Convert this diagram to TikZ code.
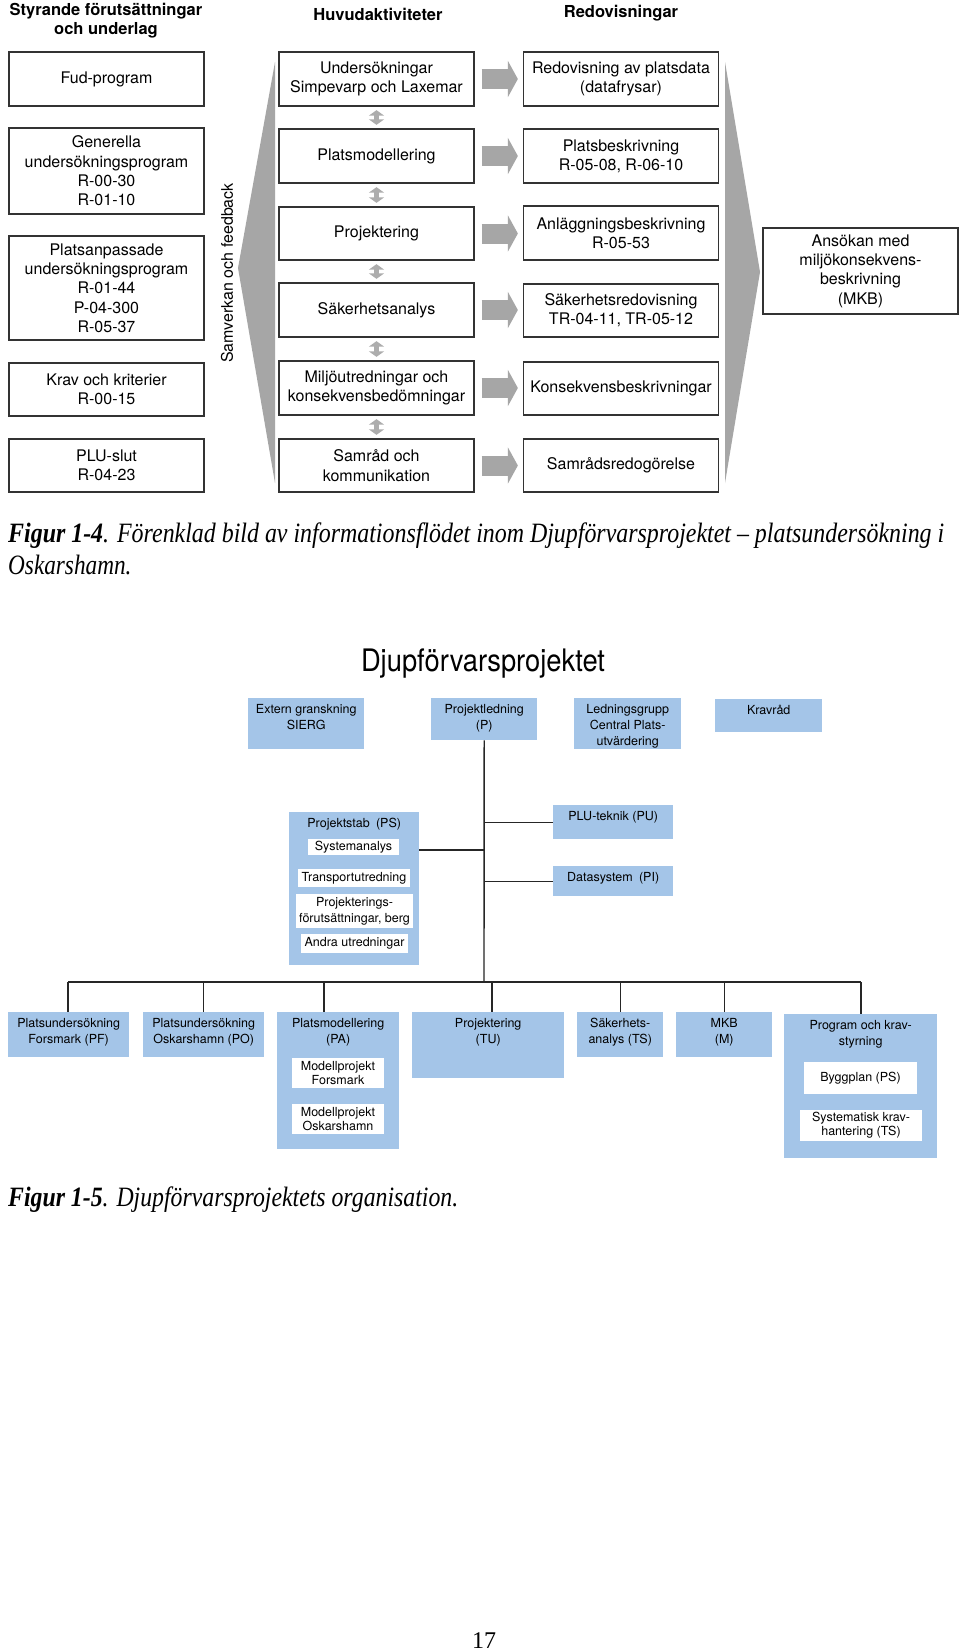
\documentclass[tikz,border=0pt]{standalone}
\usepackage{graphicx}
\usepackage{fontspec}
\setmainfont{TeX Gyre Heros}
\newfontfamily\capfont{Liberation Serif}
\usetikzlibrary{arrows.meta}
\definecolor{boxgray}{HTML}{A6A6A6}
\definecolor{lightgraytwo}{HTML}{ADADAD}
\definecolor{orgblue}{HTML}{A4C5E8}
\definecolor{boxline}{HTML}{333333}
\newcommand\orgfont{\fontsize{12.5}{16}\selectfont}
\newcommand\topfont{\fontsize{16}{19.3}\selectfont}
\begin{document}
\begin{tikzpicture}[x=1pt,y=-1pt,
 tbox/.style={draw=boxline, line width=1.3pt, fill=white, align=center, inner sep=0pt, minimum width=195pt, font=\topfont},
 hdr/.style={font=\bfseries\fontsize{16.5}{19}\selectfont, align=center, inner sep=0pt},
 blockarrow/.style={line width=20pt, draw=boxgray, -{Triangle[width=36pt,length=10pt]}, shorten <=7pt, shorten >=5pt},
 dblarrow/.style={line width=5.5pt, draw=lightgraytwo, {Triangle[width=15pt,length=5.5pt]}-{Triangle[width=15pt,length=5.5pt]}, shorten <=3.5pt, shorten >=3.5pt},
 obox/.style={fill=orgblue, inner sep=0pt, anchor=north west},
 wbox/.style={fill=white, inner sep=0pt, align=center, font=\orgfont},
 otxt/.style={inner sep=0pt, align=center, font=\orgfont, anchor=north},
 oline/.style={line width=1.4pt, draw=black!85},
]
\fill[white] (0,0) rectangle (960,1652);
\useasboundingbox (0,0) rectangle (960,1652);

% ---------- Figure 1-4 ----------
\node[hdr] (h1) at (106,21) {Styrande förutsättningar\\och underlag};
\node[hdr] (h2) at (378,14) {Huvudaktiviteter};
\node[hdr] (h3) at (621,13) {Redovisningar};

\fill[boxgray] (275,62) -- (238,268) -- (275,483) -- cycle;
\fill[boxgray] (725,62) -- (760,272) -- (725,483) -- cycle;
\node[rotate=90, inner sep=0pt, font=\topfont] (samv) at (227,273) {Samverkan och feedback};

\node[tbox, minimum height=54pt] (fud) at (106.5,79) {Fud-program};
\node[tbox, minimum height=86pt] (gen) at (106.5,171) {Generella\\undersökningsprogram\\R-00-30\\R-01-10};
\node[tbox, minimum height=104pt] (pla) at (106.5,288) {Platsanpassade\\undersökningsprogram\\R-01-44\\P-04-300\\R-05-37};
\node[tbox, minimum height=53pt] (krav) at (106.5,389.5) {Krav och kriterier\\R-00-15};
\node[tbox, minimum height=53pt] (plu) at (106.5,465.5) {PLU-slut\\R-04-23};

\node[tbox, minimum height=54pt] (und) at (376.5,79) {Undersökningar\\Simpevarp och Laxemar};
\node[tbox, minimum height=54pt] (pm) at (376.5,156) {Platsmodellering};
\node[tbox, minimum height=53pt] (proj) at (376.5,233.5) {Projektering};
\node[tbox, minimum height=54pt] (sak) at (376.5,310) {Säkerhetsanalys};
\node[tbox, minimum height=54pt] (milj) at (376.5,388) {Miljöutredningar och\\konsekvensbedömningar};
\node[tbox, minimum height=53pt] (samr) at (376.5,465.5) {Samråd och\\kommunikation};

\node[tbox, minimum height=54pt] (red) at (621,79) {Redovisning av platsdata\\(datafrysar)};
\node[tbox, minimum height=54pt] (pb) at (621,156) {Platsbeskrivning\\R-05-08, R-06-10};
\node[tbox, minimum height=54pt] (anl) at (621,233) {Anläggningsbeskrivning\\R-05-53};
\node[tbox, minimum height=53pt] (sred) at (621,310.5) {Säkerhetsredovisning\\TR-04-11, TR-05-12};
\node[tbox, minimum height=53pt] (kons) at (621,388.5) {Konsekvensbeskrivningar};
\node[tbox, minimum height=53pt] (sredo) at (621,465.5) {Samrådsredogörelse};

\node[tbox, minimum height=86pt] (ans) at (860.5,271) {Ansökan med\\miljökonsekvens-\\beskrivning\\(MKB)};

\foreach \a/\b in {und/red, pm/pb, proj/anl, sak/sred, milj/kons, samr/sredo}
  \draw[blockarrow] (\a.east) -- (\a.east -| \b.west);
\foreach \a/\b in {und/pm, pm/proj, proj/sak, sak/milj, milj/samr}
  \draw[dblarrow] (\a.south) -- (\b.north);

\node[anchor=west, inner sep=0pt] (cap1) at (8,536) {\capfont\fontsize{28}{30}\selectfont\resizebox{936pt}{\height}{\textbf{\textit{Figur 1-4}}\textit{. Förenklad bild av informationsflödet inom Djupförvarsprojektet – platsundersökning i}}};
\node[anchor=west, inner sep=0pt] (cap1b) at (8,565) {\capfont\fontsize{28}{30}\selectfont\scalebox{0.83}[1]{\textit{Oskarshamn.}}};

% ---------- Figure 1-5 ----------
\node[inner sep=0pt] (title) at (483,664) {\resizebox{244pt}{\height}{\fontsize{31}{36}\selectfont Djupförvarsprojektet}};

\node[obox, minimum width=116pt, minimum height=51pt] (ext) at (248,698) {};
\node[otxt] (extt) at ([yshift=-6pt]ext.north) {Extern granskning\\SIERG};
\node[obox, minimum width=106pt, minimum height=42pt] (pl) at (431,698) {};
\node[otxt] (plt) at ([yshift=-6pt]pl.north) {Projektledning\\(P)};
\node[obox, minimum width=107pt, minimum height=51pt] (lg) at (574,698) {};
\node[otxt] (lgt) at ([yshift=-6pt]lg.north) {Ledningsgrupp\\Central Plats-\\utvärdering};
\node[obox, minimum width=107pt, minimum height=33pt] (kr) at (715,699) {};
\node[otxt] (krt) at ([yshift=-6pt]kr.north) {Kravråd};

\node[obox, minimum width=130pt, minimum height=153pt] (ps) at (289,812) {};
\node[otxt] (pst) at ([yshift=-6pt]ps.north) {Projektstab\enspace(PS)};
\node[wbox, minimum width=91pt, minimum height=16pt] (sys) at (353.5,847) {Systemanalys};
\node[wbox, minimum width=112pt, minimum height=18pt] (trans) at (354,878) {Transportutredning};
\node[wbox, minimum width=117pt, minimum height=34pt] (projf) at (354.5,911) {Projekterings-\\förutsättningar, berg};
\node[wbox, minimum width=107pt, minimum height=19pt] (andra) at (354.5,943.5) {Andra utredningar};

\node[obox, minimum width=120pt, minimum height=34pt] (plut) at (553,805) {};
\node[otxt] (plutt) at ([yshift=-6pt]plut.north) {PLU-teknik (PU)};
\node[obox, minimum width=120pt, minimum height=30pt] (ds) at (553,866) {};
\node[otxt] (dst) at ([yshift=-6pt]ds.north) {Datasystem\enspace(PI)};

\node[obox, minimum width=121pt, minimum height=45pt] (pf) at (8,1012) {};
\node[otxt] (pft) at ([yshift=-6pt]pf.north) {Platsundersökning\\Forsmark (PF)};
\node[obox, minimum width=121pt, minimum height=45pt] (po) at (143,1012) {};
\node[otxt] (pot) at ([yshift=-6pt]po.north) {Platsundersökning\\Oskarshamn (PO)};
\node[obox, minimum width=122pt, minimum height=137pt] (pa) at (277,1012) {};
\node[otxt] (pat) at ([yshift=-6pt]pa.north) {Platsmodellering\\(PA)};
\node[wbox, minimum width=92pt, minimum height=30pt, font=\fontsize{12.5}{13.5}\selectfont] (mf) at (338,1073) {Modellprojekt\\Forsmark};
\node[wbox, minimum width=92pt, minimum height=30pt, font=\fontsize{12.5}{13.5}\selectfont] (mo) at (338,1119) {Modellprojekt\\Oskarshamn};
\node[obox, minimum width=152pt, minimum height=66pt] (tu) at (412,1012) {};
\node[otxt] (tut) at ([yshift=-6pt]tu.north) {Projektering\\(TU)};
\node[obox, minimum width=86pt, minimum height=45pt] (ts) at (577,1012) {};
\node[otxt] (tst) at ([yshift=-6pt]ts.north) {Säkerhets-\\analys (TS)};
\node[obox, minimum width=96pt, minimum height=45pt] (mkb) at (676,1012) {};
\node[otxt] (mkbt) at ([yshift=-6pt]mkb.north) {MKB\\(M)};
\node[obox, minimum width=153pt, minimum height=144pt] (prg) at (784,1014) {};
\node[otxt] (prgt) at ([yshift=-6pt]prg.north) {Program och krav-\\styrning};
\node[wbox, minimum width=113pt, minimum height=32pt] (bygg) at (860.5,1078) {Byggplan (PS)};
\node[wbox, minimum width=122pt, minimum height=31pt, font=\fontsize{12.5}{14}\selectfont] (syst) at (861,1125.5) {Systematisk krav-\\hantering (TS)};

\coordinate (hb) at (484,982);
\coordinate (hl) at (68,982);
\coordinate (hr) at (861,982);
\coordinate (pad) at (324,982);
\coordinate (tud) at (492,982);
\coordinate (psj) at (484,850);
\draw[oline] (pl.south) -- (hb);
\draw[oline] (hl) -- (hr);
\draw[oline] (hl) -- (hl |- pf.north);
\draw[oline] (po.north |- hb) -- (po.north);
\draw[oline] (pad) -- (pad |- pa.north);
\draw[oline] (tud) -- (tud |- tu.north);
\draw[oline] (ts.north |- hb) -- (ts.north);
\draw[oline] (mkb.north |- hb) -- (mkb.north);
\draw[oline] (hr) -- (hr |- prg.north);
\draw[oline] (plut.west) -- (plut.west -| hb);
\draw[oline] (ds.west) -- (ds.west -| hb);
\draw[oline] (psj) -- (psj -| ps.east);

\node[anchor=west, inner sep=0pt] (cap2) at (8,1200) {\capfont\fontsize{28}{30}\selectfont\resizebox{450pt}{\height}{\textbf{\textit{Figur 1-5}}\textit{. Djupförvarsprojektets organisation.}}};

\node[inner sep=0pt] (pnum) at (484,1641) {\capfont\fontsize{24}{26}\selectfont 17};
\end{tikzpicture}
\end{document}
